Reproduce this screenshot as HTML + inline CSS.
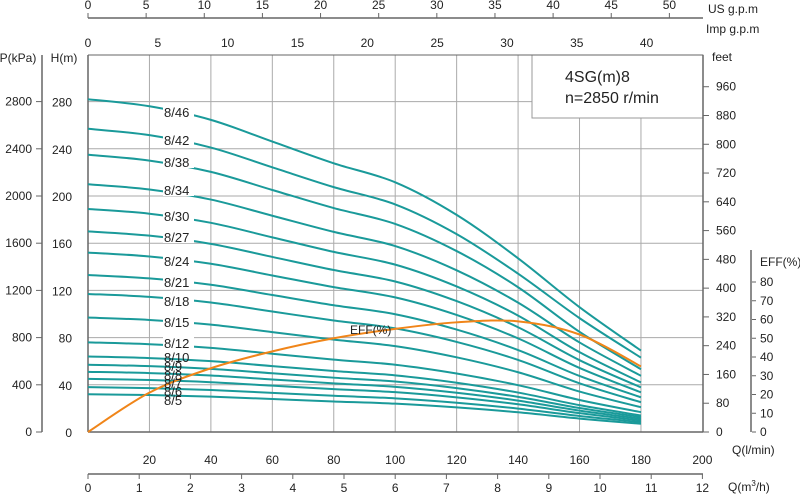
<!DOCTYPE html>
<html><head><meta charset="utf-8"><style>
body{margin:0;background:#fff}
svg{display:block;font-family:"Liberation Sans",Arial,sans-serif;font-size:12px;fill:#222}
</style></head><body>
<svg id="s" width="800" height="494" viewBox="0 0 800 494" xmlns="http://www.w3.org/2000/svg">
<g id="grid" stroke="#aaa" stroke-width="1"></g>
<g id="axes" stroke="#666" stroke-width="1.5" fill="none"></g>
<g id="curves" fill="none" stroke-width="2"></g>
<g id="txt"></g>
</svg>
<script>
const NS="http://www.w3.org/2000/svg";
const X=q=>88+q*3.072, Y=h=>432-h*1.18;
function el(p,t,a,txt){const e=document.createElementNS(NS,t);for(const k in a)e.setAttribute(k,a[k]);if(txt!=null)e.textContent=txt;document.getElementById(p).appendChild(e);return e;}
function T(x,y,s,anchor,size){el('txt','text',{x,y,'text-anchor':anchor||'middle','font-size':size||12},s);}
for(let q=20;q<=180;q+=20) el('grid','line',{x1:X(q),y1:55,x2:X(q),y2:432});
for(let h=40;h<=280;h+=40) el('grid','line',{x1:88,y1:Y(h),x2:703,y2:Y(h)});
el('grid','rect',{x:532,y:55,width:171,height:63,fill:'#fff',stroke:'#999'});
el('axes','line',{x1:88,y1:55,x2:88,y2:432});
el('axes','line',{x1:88,y1:432,x2:703,y2:432});
el('axes','line',{x1:703,y1:55,x2:703,y2:432});
el('axes','line',{x1:88,y1:55,x2:703,y2:55,'stroke-width':1});
el('axes','line',{x1:88,y1:18,x2:703,y2:18});
for(let g=0;g<=50;g+=5){const x=X(g*3.785);el('axes','line',{x1:x,y1:13,x2:x,y2:18,'stroke-width':1});T(x,9,g);}
T(708,13,'US  g.p.m','start');T(706,33,'Imp  g.p.m','start');
for(let g=0;g<=40;g+=5){const x=X(g*4.546);T(x,47,g);}
el('axes','line',{x1:42,y1:55,x2:42,y2:432});
for(let p=0;p<=2800;p+=400){const y=Y(p/10);el('axes','line',{x1:36,y1:y,x2:42,y2:y,'stroke-width':1});T(32,y+4,p,'end');}
T(18,62,'P(kPa)','middle');T(64,62,'H(m)','middle');
for(let h=0;h<=280;h+=40){T(72,Y(h)+5,h,'end');}
T(712,61,'feet','start');
for(let f=0;f<=960;f+=80){const y=Y(f*0.3048);el('axes','line',{x1:703,y1:y,x2:709,y2:y,'stroke-width':1});T(716,y+4,f,'start');}
el('axes','line',{x1:751,y1:250,x2:751,y2:432});
T(760,266,'EFF(%)','start');
for(let e=0;e<=80;e+=10){const y=432-e*1.875;el('axes','line',{x1:752,y1:y,x2:756,y2:y,'stroke-width':1});T(760,y+4,e,'start');}
for(let q=20;q<=200;q+=20)T(X(q),464,q);
T(732,454,'Q(l/min)','start');
el('axes','line',{x1:88,y1:474,x2:703,y2:474});
for(let m=0;m<=12;m++){const x=X(m*1000/60);el('axes','line',{x1:x,y1:474,x2:x,y2:479,'stroke-width':1});T(x,492,m);}
el('txt','text',{x:728,y:491,'text-anchor':'start'}).innerHTML='Q(m<tspan font-size="8" dy="-5">3</tspan><tspan dy="5">/h)</tspan>';
T(565,82,'4SG(m)8','start',16);T(565,103,'n=2850 r/min','start',16);
function path(pts){let d='M'+pts[0][0]+','+pts[0][1];
 for(let i=0;i<pts.length-1;i++){const p0=pts[Math.max(i-1,0)],p1=pts[i],p2=pts[i+1],p3=pts[Math.min(i+2,pts.length-1)];
 d+=` C${p1[0]+(p2[0]-p0[0])/6},${p1[1]+(p2[1]-p0[1])/6} ${p2[0]-(p3[0]-p1[0])/6},${p2[1]-(p3[1]-p1[1])/6} ${p2[0]},${p2[1]}`;}return d;}
const Q=[0,20,40,60,80,100,120,140,160,180];
const F=[6.13,6.0,5.75,5.35,4.95,4.6,4.0,3.2,2.3,1.5];
const st=[46,42,38,34,30,27,24,21,18,15,12,10,9,8,7,6,5];
const sh={46:282,42:257,38:235,34:210,30:189,27:170,24:152,21:133,18:117,15:97,12:76,10:64,9:57,8:51,7:45,6:38,5:32};
const end={46:69,42:63};
st.forEach(n=>{const k=sh[n]/6.13;const e=end[n]||(n*1.4);const pts=Q.map((q,i)=>{let h=F[i]*k;if(i==9)h=e;if(i==8)h=(F[8]*k+e*2.3/1.5)/2;return[X(q),Y(h)];});
 el('curves','path',{d:path(pts),stroke:'#1a9a9a'});});
const E=[[0,0],[20,21],[40,34],[60,43],[80,50],[100,55],[120,58.5],[140,59],[160,52],[180,35]];
el('curves','path',{d:path(E.map(p=>[X(p[0]),432-p[1]*1.875])),stroke:'#f08519'});
const ly={46:112,42:140,38:162,34:190,30:216,27:237,24:261,21:282,18:301,15:322,12:343,10:357,9:366,8:375,7:383,6:391,5:400};
st.forEach(n=>{if(n>=12)el('txt','rect',{x:163,y:ly[n]-6,width:n>=10?31:21,height:12,fill:'#fff'});T(164,ly[n]+5,'8/'+n,'start',13);});
T(350,334,'EFF(%)','start');
</script>
</body></html>
